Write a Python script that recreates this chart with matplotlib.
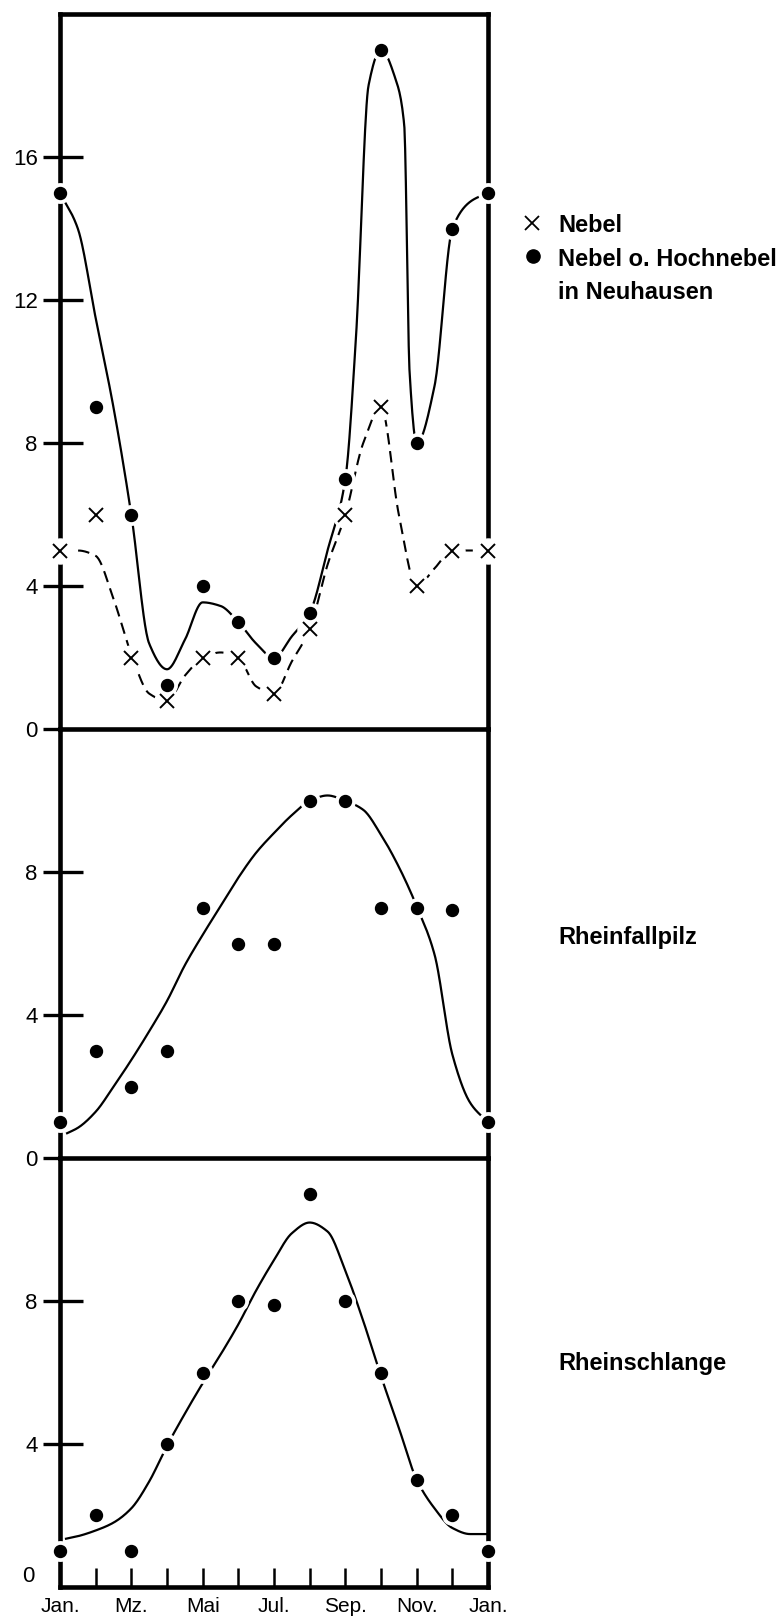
import numpy as np
import matplotlib.pyplot as plt

plt.rcParams['font.family'] = ['Liberation Sans', 'DejaVu Sans']

# x axis: Jan. to Jan., one step per month
months = list(range(13))
month_labels = ['Jan.', '', 'Mz.', '', 'Mai', '', 'Jul.', '', 'Sep.', '', 'Nov.', '', 'Jan.']

# days per month
nebel = [5, 6, 2, 0.8, 2, 2, 1, 2.8, 6, 9, 4, 5, 5]
hochnebel = [15, 9, 6, 1.25, 4, 3, 2, 3.25, 7, 19, 8, 14, 15]
rheinfallpilz = [1, 3, 2, 3, 7, 6, 6, 10, 10, 7, 7, 6.95, 1]
rheinschlange = [1, 2, 1, 4, 6, 8, 7.9, 11, 8, 6, 3, 2, 1]

# the hand drawn curves (mostly every half month)
half_months = [i / 2 for i in range(25)]
nebel_curve = [5, 5, 4.85, 3.65, 2.1, 1.0, 0.8, 1.5, 2.0, 2.15, 2.0, 1.2, 1.0,
               1.9, 2.8, 4.6, 6.0, 8.0, 9.0, 6.0, 4.0, 4.5, 5.0, 5.0, 5.0]
hochnebel_curve_x = [0, 0.5, 1, 1.5, 2, 2.5, 3, 3.5, 4, 4.5, 5, 5.5, 6, 6.5, 7, 7.5, 8,
                     8.3, 8.65, 9, 9.4, 9.65, 9.8, 10, 10.5, 11, 11.5, 12]
hochnebel_curve = [15, 14.0, 11.5, 9.0, 6.0, 2.4, 1.68, 2.5, 3.55, 3.45, 3.0, 2.4, 2.0,
                   2.6, 3.25, 5.0, 7.0, 11.0, 18.0, 19.0, 18.2, 16.9, 10.0, 8.0,
                   9.6, 14.0, 14.75, 15]
pilz_curve_x = [0.2] + half_months[1:]
pilz_curve = [0.7, 0.85, 1.3, 2.0, 2.75, 3.55, 4.4, 5.4, 6.25, 7.05, 7.85, 8.55, 9.1,
              9.6, 10.0, 10.15, 10.0, 9.75, 9.05, 8.15, 7.05, 5.7, 2.9, 1.55, 1.0]
schlange_curve_x = [0.17] + half_months[1:]
schlange_curve = [1.35, 1.42, 1.58, 1.8, 2.2, 2.95, 3.95, 4.85, 5.7, 6.5, 7.35, 8.3, 9.15,
                  9.9, 10.2, 9.95, 8.85, 7.45, 5.9, 4.45, 3.0, 2.2, 1.65, 1.48, 1.48]


def smooth(x, y, n=600):
    # monotone cubic (pchip) through the read points
    x = np.asarray(x, float)
    y = np.asarray(y, float)
    h = np.diff(x)
    d = np.diff(y) / h
    m = np.zeros_like(y)
    for k in range(1, len(x) - 1):
        if d[k - 1] * d[k] > 0:
            w1 = 2 * h[k] + h[k - 1]
            w2 = h[k] + 2 * h[k - 1]
            m[k] = (w1 + w2) / (w1 / d[k - 1] + w2 / d[k])
    m[0] = d[0]
    m[-1] = d[-1]
    xs = np.linspace(x[0], x[-1], n)
    i = np.clip(np.searchsorted(x, xs) - 1, 0, len(h) - 1)
    t = (xs - x[i]) / h[i]
    ys = ((2 * t**3 - 3 * t**2 + 1) * y[i] + (t**3 - 2 * t**2 + t) * h[i] * m[i]
          + (-2 * t**3 + 3 * t**2) * y[i + 1] + (t**3 - t**2) * h[i] * m[i + 1])
    return xs, ys


def dots(ax, x, y):
    # white ring first, so lines and the frame get a small gap round each dot
    ax.plot(x, y, 'o', ms=14, color='white', ls='none', zorder=3, clip_on=False)
    ax.plot(x, y, 'o', ms=8.6, color='black', ls='none', zorder=4, clip_on=False)


def crosses(ax, x, y):
    ax.plot(x, y, 'o', ms=18, color='white', ls='none', zorder=3, clip_on=False)
    ax.plot(x, y, 'x', ms=10.5, mew=1.4, color='black', ls='none', zorder=4, clip_on=False)


def frame(ax, top, yticks, inner):
    ax.patch.set_visible(False)
    ax.set_xlim(0, 12)
    ax.set_ylim(0, top)
    for side in ['left', 'right', 'bottom', 'top']:
        ax.spines[side].set_linewidth(3.3)
    ax.yaxis.remove_overlapping_locs = False
    ax.set_yticks(yticks)
    ax.set_yticks(inner, minor=True)
    ax.tick_params(axis='y', which='major', direction='out', length=12, width=2.4,
                   pad=4, labelsize=16)
    ax.tick_params(axis='y', which='minor', direction='in', length=16.5, width=2.4)
    ax.tick_params(axis='x', bottom=False, labelbottom=False)


fig = plt.figure(figsize=(7.84, 16.19), dpi=100)
ax1 = fig.add_axes([0.0765, 0.5495, 0.546, 0.4419])
ax2 = fig.add_axes([0.0765, 0.2846, 0.546, 0.2649])
ax3 = fig.add_axes([0.0765, 0.0198, 0.546, 0.2648])

# Nebel
frame(ax1, 20, [0, 4, 8, 12, 16], [4, 8, 12, 16])
cx, cy = smooth(hochnebel_curve_x, hochnebel_curve)
ax1.plot(cx, cy, color='black', lw=1.6, zorder=2, clip_on=False)
cx, cy = smooth(half_months, nebel_curve)
ax1.plot(cx, cy, color='black', lw=1.5, ls=(0, (5.5, 3.2)), zorder=2, clip_on=False)
dots(ax1, months, hochnebel)
crosses(ax1, months, nebel)

# Rheinfallpilz
frame(ax2, 12, [0, 4, 8], [4, 8])
ax2.spines['top'].set_visible(False)
cx, cy = smooth(pilz_curve_x, pilz_curve)
ax2.plot(cx, cy, color='black', lw=1.6, zorder=2, clip_on=False)
dots(ax2, months, rheinfallpilz)

# Rheinschlange
frame(ax3, 12, [4, 8], [4, 8])
ax3.spines['top'].set_visible(False)
cx, cy = smooth(schlange_curve_x, schlange_curve)
ax3.plot(cx, cy, color='black', lw=1.6, zorder=2, clip_on=False)
dots(ax3, months, rheinschlange)
ax3.set_xticks(months)
ax3.set_xticklabels(month_labels)
ax3.tick_params(axis='x', bottom=True, labelbottom=True, direction='in', length=13.5,
                width=1.8, pad=7, labelsize=15)
ax3.text(-0.72, 0.3, '0', ha='right', va='center', fontsize=16)

# legend and panel names
ax1.plot([0.679], [0.8620], 'x', ms=10.5, mew=1.3, color='black',
         transform=fig.transFigure, clip_on=False)
ax1.plot([0.680], [0.8416], 'o', ms=9.5, color='black',
         transform=fig.transFigure, clip_on=False)
fig.text(0.7117, 0.8567, 'Nebel', fontsize=17, fontweight='bold')
fig.text(0.7117, 0.8357, 'Nebel o. Hochnebel', fontsize=17, fontweight='bold')
fig.text(0.7117, 0.8153, 'in Neuhausen', fontsize=17, fontweight='bold')
fig.text(0.7117, 0.4169, 'Rheinfallpilz', fontsize=17, fontweight='bold')
fig.text(0.7117, 0.1538, 'Rheinschlange', fontsize=17, fontweight='bold')

plt.savefig('out.png', dpi=100)
